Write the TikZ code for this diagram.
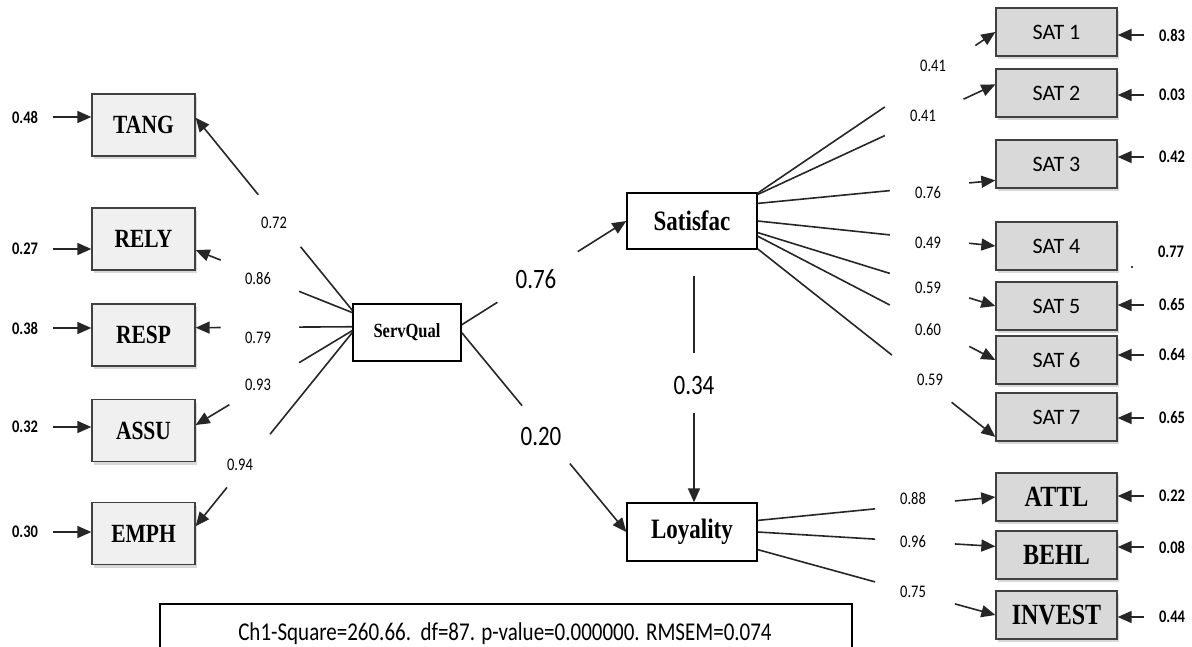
\documentclass[tikz,border=0pt]{standalone}
\usepackage{fontspec}
\usepackage{graphicx}
\setmainfont{Liberation Serif}
\newfontfamily\calib{Carlito}
\usetikzlibrary{arrows.meta,shadows}
\newcommand{\tl}[1]{\scalebox{1}[1.22]{#1}}
\tikzset{lat/.style={draw, line width=1.3pt, fill=white,
         minimum width=130pt, minimum height=56pt,
         font=\bfseries\fontsize{23}{23}\selectfont},
         obs/.style={draw=black!75, line width=1.3pt, fill=black!6,
         minimum width=103pt, minimum height=62pt,
         drop shadow={shadow xshift=2pt, shadow yshift=-3pt, fill=black!30},
         font=\bfseries\fontsize{21.5}{21.5}\selectfont},
         sat/.style={obs, fill=black!15, minimum width=121pt, minimum height=48pt,
         font=\calib\fontsize{22}{22}\selectfont},
         ind/.style={sat, font=\bfseries\fontsize{24}{24}\selectfont},
         coef/.style={font=\calib\fontsize{14.5}{14.5}\selectfont},
         big/.style={font=\calib\fontsize{23}{23}\selectfont},
         errv/.style={font=\calib\bfseries\fontsize{14.5}{14.5}\selectfont},
         lnk/.style={line width=1.6pt, black!85},
         tip/.style={lnk, -{Triangle[length=14pt,width=12pt]}},
         err/.style={tip, shorten <=12pt}}

\begin{document}
\begin{tikzpicture}[x=1pt, y=-1pt]
    \useasboundingbox (0,0) rectangle (1192,646);

    \node[obs] (tang) at (143.5,125) {\tl{TANG}};
    \node[obs] (rely) at (143.5,239) {\tl{RELY}};
    \node[obs] (resp) at (143.5,335) {\tl{RESP}};
    \node[obs] (assu) at (143.5,430.5) {\tl{ASSU}};
    \node[obs] (emph) at (143.5,533.5) {\tl{EMPH}};

    \node[lat, minimum width=108pt, minimum height=57pt,
          font=\bfseries\fontsize{16.5}{16.5}\selectfont] (sq) at (407,332.5) {\tl{ServQual}};
    \node[lat] (satis) at (692,221) {\tl{Satisfac}};
    \node[lat, minimum height=58pt] (loyal) at (692,532) {\tl{Loyality}};

    \foreach \i/\y in {1/32,2/93,3/164,4/246,5/306,6/360,7/417}
      \node[sat] (sat\i) at (1056.5,\y) {SAT \i};
    \node[ind] (attl) at (1056.5,497) {\tl{ATTL}};
    \node[ind] (behl) at (1056.5,555) {\tl{BEHL}};
    \node[ind] (invest) at (1056.5,615) {\tl{INVEST}};

    \foreach \src/\dst/\a/\b in {sq.158/tang.8/.33/.60, sq.160/rely.348/.34/.84,
        sq.174/resp.8/.34/.84, sq.178/assu.6/.34/.785, sq.west/emph.8/.525/.80,
        sq.8/satis.west/.217/.705, sq.east/loyal.west/.367/.657,
        satis.23/sat1.west/.535/.916, satis.22/sat2.172/.535/.866,
        satis.15/sat3.195/.556/.89, satis.east/sat4.west/.556/.89,
        satis.350/sat5.west/.556/.89, satis.347/sat6.west/.556/.89,
        satis.337/sat7.198/.565/.816, loyal.10/attl.west/.494/.83,
        loyal.east/behl.172/.494/.83, loyal.345/invest.west/.494/.83} {
      \path (\src) -- coordinate[pos=\a] (p) coordinate[pos=\b] (q) (\dst);
      \draw[lnk] (\src) -- (p);
      \draw[tip] (q) -- (\dst);
    }
    \path (satis.south) -- coordinate[pos=.106] (s0) coordinate[pos=.41] (p)
          coordinate[pos=.646] (q) (loyal.north);
    \draw[lnk] ([xshift=2pt]s0) -- ([xshift=2pt]p);
    \draw[tip] ([xshift=2pt]q) -- ([xshift=2pt]loyal.north);

    \foreach \n/\x/\y/\v in {tang/274/223/0.72, rely/258/279/0.86, resp/258/338/0.79,
        assu/258/385/0.93, emph/240/465/0.94, sat1/933/66/0.41, sat2/923/116/0.41,
        sat3/928/193/0.76, sat4/928/243/0.49, sat5/928/288/0.59, sat6/928/330/0.60,
        sat7/930/380/0.59, attl/913/499/0.88, behl/913/542/0.96, invest/913/592/0.75}
      \node[coef] (c\n) at (\x,\y) {\tl{\v}};
    \node[big] (csat) at (536,279) {\tl{0.76}};
    \node[big] (cloy) at (541,436) {\tl{0.20}};
    \node[big] (csl) at (694,385) {\tl{0.34}};

    \foreach \n/\v/\y in {tang/0.48/117, rely/0.27/249, resp/0.38/328,
        assu/0.32/427, emph/0.30/532} {
      \node[errv] (e\n) at (25,\y) {\tl{\v}};
      \draw[err] (e\n) -- (e\n -| \n.west);
    }
    \foreach \n/\v/\y in {sat1/0.83/35, sat2/0.03/95, sat3/0.42/157, sat5/0.65/305,
        sat6/0.64/355, sat7/0.65/418, attl/0.22/496, behl/0.08/547, invest/0.44/617} {
      \node[errv] (e\n) at (1172,\y) {\tl{\v}};
      \draw[err] (e\n) -- (e\n -| \n.east);
    }
    \node[errv] (esat4) at (1171,252) {\tl{0.77}};
    \fill (1132,267) circle[radius=1.2];

    \draw[line width=1.2pt] (160,604) rectangle (852,680);
    \node[anchor=base, font=\calib\fontsize{21}{21}\selectfont] (fit) at (505,640)
         {\tl{Ch1-Square=260.66.\ \ df=87. p-value=0.000000. RMSEM=0.074}};
\end{tikzpicture}
\end{document}
